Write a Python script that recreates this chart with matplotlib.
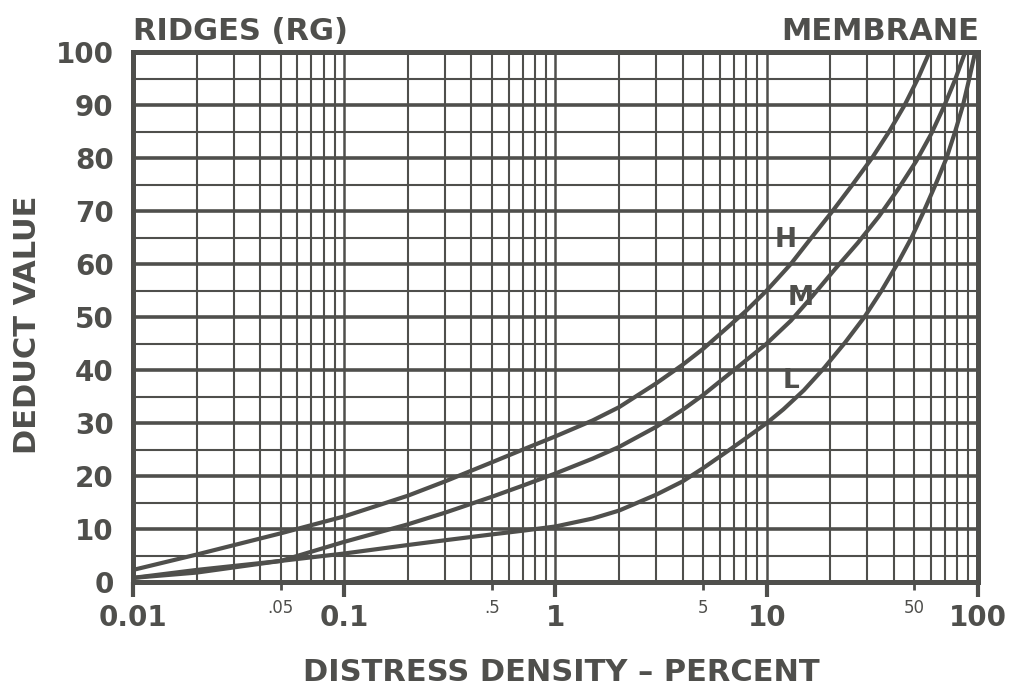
import matplotlib
matplotlib.use("Agg")
import matplotlib.pyplot as plt
from matplotlib.ticker import FixedLocator, FixedFormatter

INK = "#4f4f4c"

# distress density (%) -> deduct value
h_density = [0.01, 0.02, 0.05, 0.1, 0.2, 0.3, 0.5, 0.7, 1, 1.5, 2, 3, 4, 5, 6.5, 8, 10,
             13, 16.3, 20.5, 25.5, 31.5, 38, 45, 52, 59]
h_deduct = [2.3, 5.2, 9.2, 12.4, 16.3, 19.0, 22.6, 25.0, 27.5, 30.5, 33, 37.5, 41, 44, 48, 51.2, 55,
            60, 65, 70, 75, 80, 85, 90, 95, 100]

m_density = [0.01, 0.02, 0.05, 0.1, 0.2, 0.3, 0.5, 0.7, 1, 1.5, 2, 3, 4, 5, 7, 10,
             13, 16.5, 21, 27, 34, 42, 51, 60, 69, 78, 87]
m_deduct = [0.8, 1.8, 4.0, 7.6, 10.9, 13.1, 16.1, 18.2, 20.5, 23.3, 25.5, 29.3, 32.5, 35.3, 40, 45,
            49.3, 54, 59, 64, 69, 74.2, 79.4, 84.5, 89.7, 94.8, 100]

l_density = [0.01, 0.02, 0.05, 0.1, 0.2, 0.3, 0.5, 0.7, 1, 1.5, 2, 3, 4, 5, 6.8, 8, 10, 12, 15,
             18.8, 23.5, 29, 35, 41.5, 48.5, 55.5, 63, 71, 78, 85, 91, 97]
l_deduct = [0.8, 2.3, 4.0, 5.4, 7, 7.9, 9, 9.7, 10.5, 12, 13.5, 16.5, 19, 21.5, 25.2, 27.2, 30, 32.6, 36.2,
            40.5, 45.2, 50, 55, 60, 65, 70, 75, 80, 85, 90, 95, 100]

curve_labels = ["H", "M", "L"]
label_pos = [(12.3, 64.5), (14.5, 53.6), (13.0, 38.0)]

major_x = [0.01, 0.1, 1, 10, 100]
major_x_text = ["0.01", "0.1", "1", "10", "100"]
minor_x = [0.05, 0.5, 5, 50]
minor_x_text = [".05", ".5", "5", "50"]
y_ticks = list(range(0, 101, 10))

fig = plt.figure(figsize=(10.15, 6.98), dpi=100)
ax = fig.add_axes([0.131, 0.166, 0.8325, 0.7595])
ax.set_xscale("log")
ax.set_xlim(0.01, 100)
ax.set_ylim(0, 100)

# graph-paper grid
for d in range(-2, 2):
    for m in range(2, 10):
        ax.axvline(m * 10 ** d, color=INK, lw=1.5, zorder=1)
    if d > -2:
        ax.axvline(10 ** d, color=INK, lw=1.8, zorder=1)
for yv in range(5, 100, 5):
    ax.axhline(yv, color=INK, lw=2.6 if yv % 10 == 0 else 1.5, zorder=1)

for xs, ys in [(h_density, h_deduct), (m_density, m_deduct), (l_density, l_deduct)]:
    ax.plot(xs, ys, color=INK, lw=3.0, solid_capstyle="round", solid_joinstyle="round",
            zorder=3)

for name, (lx, ly) in zip(curve_labels, label_pos):
    ax.text(lx, ly, name, color=INK, fontsize=19, fontweight="bold",
            ha="center", va="center", zorder=4)

for s in ax.spines.values():
    s.set_color(INK)
    s.set_linewidth(3.6)
    s.set_zorder(5)

ax.xaxis.set_major_locator(FixedLocator(major_x))
ax.xaxis.set_major_formatter(FixedFormatter(major_x_text))
ax.xaxis.set_minor_locator(FixedLocator(minor_x))
ax.xaxis.set_minor_formatter(FixedFormatter(minor_x_text))
ax.tick_params(axis="x", which="major", length=11, width=3, color=INK,
               labelsize=20, labelcolor=INK, pad=5)
ax.tick_params(axis="x", which="minor", length=6, width=2, color=INK,
               labelsize=12, labelcolor=INK, pad=6)
for t in ax.get_xticklabels(which="major"):
    t.set_fontweight("bold")

ax.set_yticks(y_ticks)
ax.set_yticklabels([str(v) for v in y_ticks], fontsize=20, fontweight="bold", color=INK)
ax.tick_params(axis="y", length=0, pad=14)

fig.text(0.027, 0.535, "DEDUCT VALUE", rotation=90, ha="center", va="center",
         fontsize=22, fontweight="bold", color=INK)
fig.text(0.553, 0.037, "DISTRESS DENSITY \u2013 PERCENT", ha="center", va="center",
         fontsize=22, fontweight="bold", color=INK)
fig.text(0.131, 0.955, "RIDGES (RG)", ha="left", va="center",
         fontsize=22, fontweight="bold", color=INK)
fig.text(0.965, 0.955, "MEMBRANE", ha="right", va="center",
         fontsize=22, fontweight="bold", color=INK)

fig.savefig("out.png", dpi=100, facecolor="white")
